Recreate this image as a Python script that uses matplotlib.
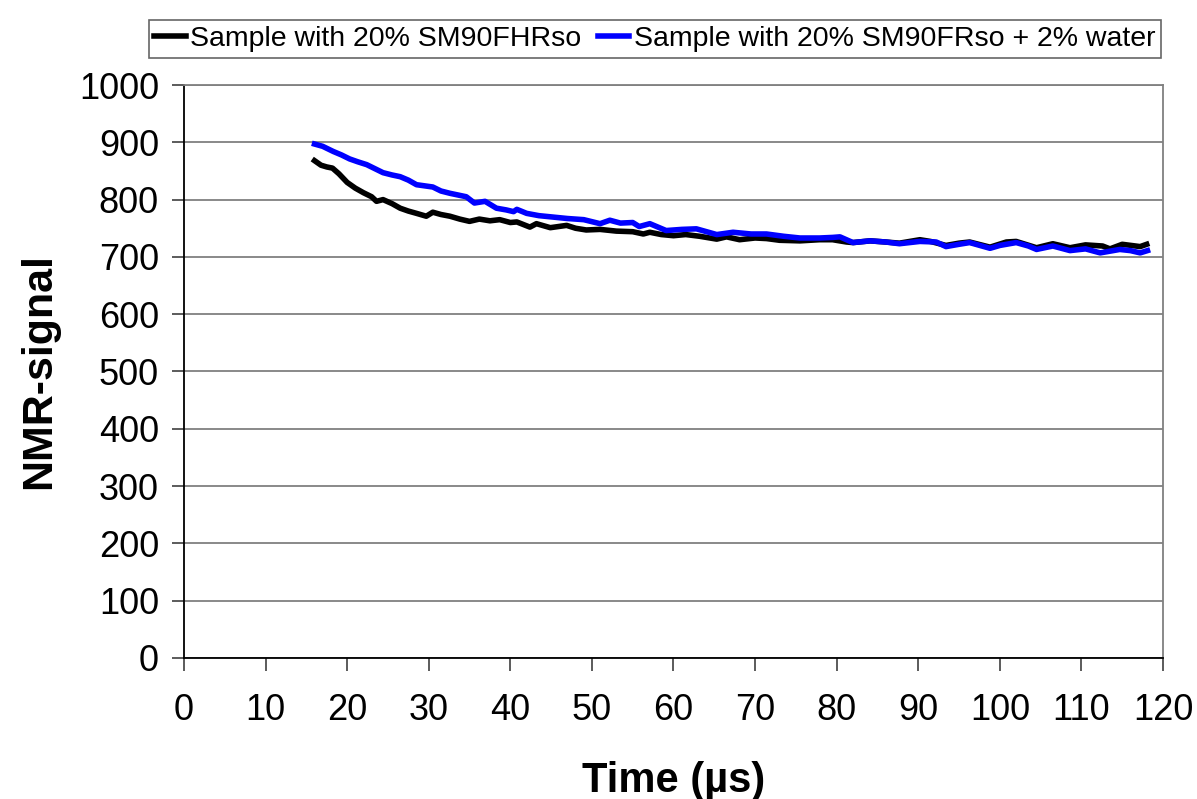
import matplotlib
matplotlib.use("Agg")
import matplotlib.pyplot as plt

plt.rcParams['font.family'] = ['Liberation Sans', 'DejaVu Sans']

# black curve: sample with 20% SM90FHRso
time_fhr = [16, 16.8, 17.5, 18.2, 19, 20, 21, 22, 23, 23.6, 24.4, 25.5, 26.5,
            27.5, 28.5, 29.7, 30.5, 31.5, 32.6, 33.8, 35, 36.2, 37.5, 38.7, 40,
            40.8, 42.4, 43.2, 44.9, 46.9, 48, 49.3, 51, 53, 55, 56.3, 57.1, 58.5,
            60, 61.5, 63.2, 65.3, 66.5, 68.1, 70, 71.4, 73, 75.5, 77.9, 79.5,
            81.2, 82, 84.1, 86, 87.7, 90.2, 91.5, 93.4, 95, 96.3, 98.8, 100.8,
            102, 104.5, 106.5, 108.6, 110.5, 112.6, 113.5, 115, 117.2, 118]
signal_fhr = [868, 860, 857, 855, 845, 830, 820, 812, 805, 797, 800, 793, 785,
              780, 776, 771, 778, 774, 771, 766, 762, 766, 763, 765, 760,
              761, 752, 758, 751, 755, 750, 747, 748, 745, 744, 740, 743, 739,
              737, 739, 736, 731, 735, 730, 733, 732, 729, 728, 730, 730,
              726, 725, 728, 726, 724, 730, 727, 720, 724, 726, 717, 726,
              727, 716, 723, 716, 721, 719, 714, 722, 718, 722]

# blue curve: sample with 20% SM90FRso + 2% water
time_fr = [16, 17, 18.3, 19.3, 20.3, 21.3, 22.4, 23.4, 24.4, 25.5, 26.5, 27.5,
           28.5, 29.5, 30.5, 31.5, 32.6, 33.6, 34.6, 35.6, 36.9, 38.3, 39.5,
           40.4, 40.8, 42, 43.5, 44.9, 47, 49, 51, 52.2, 53.5, 55, 55.8, 57.1,
           59.1, 61, 62.8, 65.3, 67.3, 69.5, 71.4, 73.5, 75.5, 77.9, 79.5, 80.4,
           82, 84.1, 86, 87.7, 90.2, 92.2, 93.4, 95, 96.3, 98.8, 100, 102,
           103.5, 104.5, 106.5, 108.6, 110.5, 112.3, 114.7, 116, 117.2, 118.1]
signal_fr = [897, 893, 884, 878, 871, 866, 861, 854, 847, 843, 840, 834,
             826, 824, 822, 815, 811, 808, 805, 794, 797, 785, 782,
             779, 783, 776, 772, 770, 767, 765, 758, 764, 759, 760, 753, 758,
             746, 748, 749, 739, 743, 740, 740, 736, 733, 733, 734, 735,
             725, 728, 726, 723, 727, 726, 718, 722, 725, 715, 720, 725,
             719, 713, 719, 711, 714, 707, 713, 711, 707, 711]

labels = ['Sample with 20% SM90FHRso', 'Sample with 20% SM90FRso + 2% water']

fig = plt.figure(figsize=(11.97, 7.99), dpi=100)
ax = fig.add_axes([0.1537, 0.1765, 0.8179, 0.7171])

ax.plot(time_fhr, signal_fhr, color='black', lw=4, label=labels[0], zorder=3)
ax.plot(time_fr, signal_fr, color='#0000ff', lw=4, label=labels[1], zorder=4)

ax.set_xlim(0, 120)
ax.set_ylim(0, 1000)
ax.set_xticks(range(0, 121, 10))
ax.set_yticks(range(0, 1001, 100))
ax.yaxis.grid(True, color='#808080', lw=1.3)
ax.set_axisbelow(True)

for s in ['top', 'right']:
    ax.spines[s].set_color('#808080')
    ax.spines[s].set_linewidth(1.3)
for s in ['left', 'bottom']:
    ax.spines[s].set_color('black')
    ax.spines[s].set_linewidth(1.3)

ax.tick_params(axis='both', direction='out', length=9, width=1.2,
               color='#404040', labelsize=26)
ax.tick_params(axis='x', pad=16)
ax.tick_params(axis='y', pad=9)

ax.set_xlabel('Time (µs)', fontsize=30, fontweight='bold', labelpad=24)
ax.set_ylabel('NMR-signal', fontsize=31, fontweight='bold', labelpad=14)

leg = ax.legend(loc='center', bbox_to_anchor=(0.547, 0.951),
                bbox_transform=fig.transFigure, ncol=2, fontsize=20.5,
                frameon=True, fancybox=False, handlelength=1.1,
                handletextpad=0.15, columnspacing=0.6, borderpad=0.2,
                borderaxespad=0)
leg.get_frame().set_edgecolor('#404040')
leg.get_frame().set_linewidth(1.2)
for h in leg.get_lines():
    h.set_linewidth(4)

plt.savefig('out.png', dpi=100)
